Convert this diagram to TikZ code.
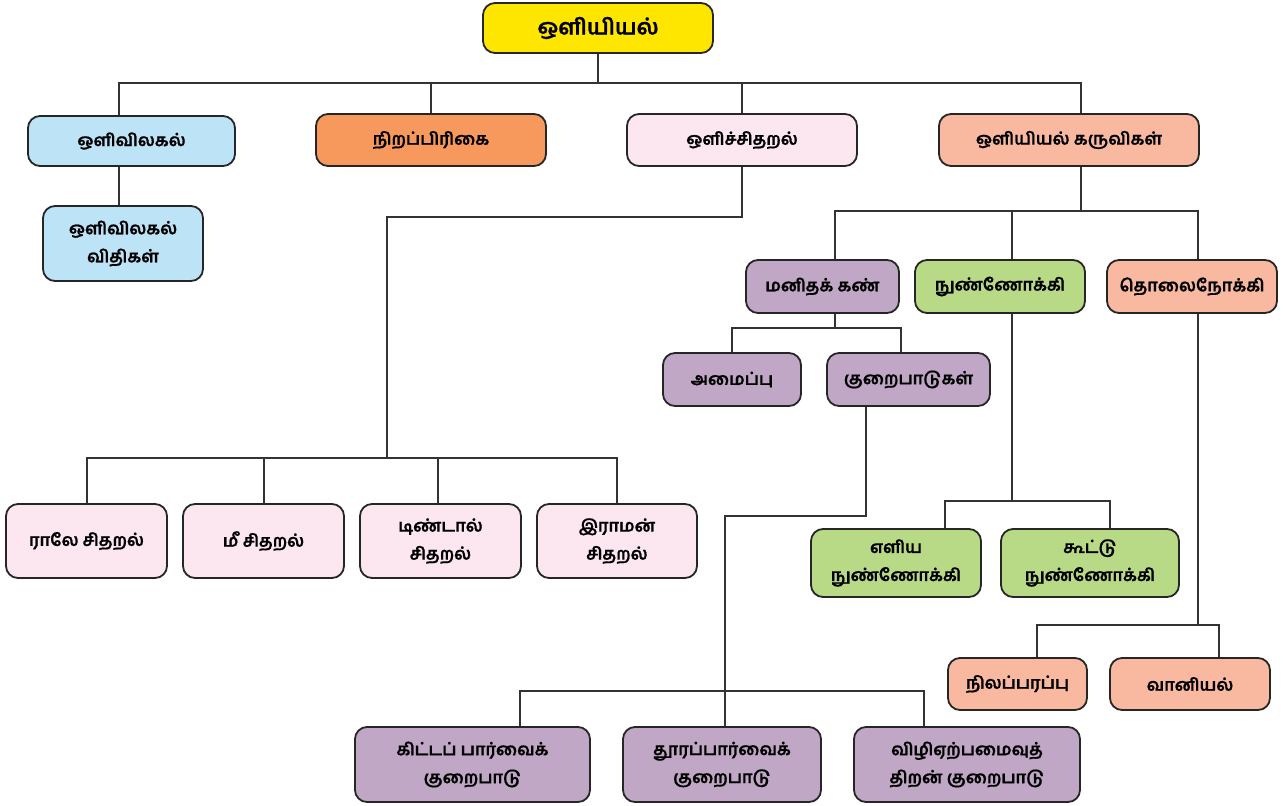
\documentclass[tikz,border=0pt]{standalone}
\usepackage{fontspec}
\newfontfamily\ta[Script=Tamil,BoldFeatures={FakeBold=0.7}]{Hind Madurai}
\definecolor{cyel}{HTML}{FFE600}
\definecolor{cblu}{HTML}{BDE3F6}
\definecolor{cora}{HTML}{F7995C}
\definecolor{cpnk}{HTML}{FCE6F0}
\definecolor{csal}{HTML}{F9B8A0}
\definecolor{cpur}{HTML}{C1A7C6}
\definecolor{cgrn}{HTML}{B8D985}
\definecolor{cln}{HTML}{333333}
\newcommand\mybx[7]{\node[box,fill=#6,minimum width={(#4-#2)*1pt},minimum height={(#5-#3)*1pt}] (#1) at ({(#2+#4)/2},{(#3+#5)/2}) {#7};}
\begin{document}
\begin{tikzpicture}[x=1pt,y=-1pt,
  box/.style={draw=black!85,line width=1.8pt,rounded corners=12pt,align=center,inner sep=0pt,
    font=\ta\bfseries\fontsize{17}{28}\selectfont},
  conn/.style={draw=cln,line width=2pt}]
\useasboundingbox (0,0) rectangle (1283,806);
\mybx{root}{483}{3}{713}{53}{cyel}{\fontsize{22}{24}\selectfont ஒளியியல்}
\mybx{A}{28}{116}{235}{166}{cblu}{ஒளிவிலகல்}
\mybx{A1}{43}{206}{203}{281}{cblu}{ஒளிவிலகல்\\விதிகள்}
\mybx{B}{316}{114}{546}{166}{cora}{நிறப்பிரிகை}
\mybx{C}{627}{114}{857}{166}{cpnk}{ஒளிச்சிதறல்}
\mybx{D}{939}{114}{1199}{166}{csal}{ஒளியியல் கருவிகள்}
\mybx{C1}{6}{504}{167}{578}{cpnk}{ராலே சிதறல்}
\mybx{C2}{183}{504}{344}{578}{cpnk}{மீ சிதறல்}
\mybx{C3}{360}{504}{521}{578}{cpnk}{டிண்டால்\\சிதறல்}
\mybx{C4}{537}{504}{697}{578}{cpnk}{இராமன்\\சிதறல்}
\mybx{E}{746}{260}{899}{313}{cpur}{மனிதக் கண்}
\mybx{M}{915}{260}{1085}{313}{cgrn}{நுண்ணோக்கி}
\mybx{T}{1107}{260}{1277}{313}{csal}{தொலைநோக்கி}
\mybx{E1}{663}{353}{801}{406}{cpur}{அமைப்பு}
\mybx{E2}{827}{353}{990}{406}{cpur}{குறைபாடுகள்}
\mybx{F1}{355}{727}{590}{802}{cpur}{கிட்டப் பார்வைக்\\குறைபாடு}
\mybx{F2}{623}{727}{821}{802}{cpur}{தூரப்பார்வைக்\\குறைபாடு}
\mybx{F3}{854}{727}{1080}{802}{cpur}{விழிஏற்பமைவுத்\\திறன் குறைபாடு}
\mybx{M1}{811}{529}{981}{597}{cgrn}{எளிய\\நுண்ணோக்கி}
\mybx{M2}{1001}{529}{1179}{597}{cgrn}{கூட்டு\\நுண்ணோக்கி}
\mybx{T1}{948}{658}{1087}{710}{csal}{நிலப்பரப்பு}
\mybx{T2}{1110}{658}{1270}{710}{csal}{வானியல்}
% level 1
\coordinate (bus1) at (598,83);
\draw[conn] (root.south) -- (bus1);
\draw[conn] ([xshift=-12.5pt]A.north) |- (bus1);
\draw[conn] ([xshift=12pt]D.north) |- (bus1);
\draw[conn] (B.north) -- (B.north |- bus1);
\draw[conn] (C.north) -- (C.north |- bus1);
\draw[conn] ([xshift=-12.5pt]A.south) -- ([xshift=-12.5pt]A.south |- A1.north);
% scattering
\coordinate (cj) at (387,217);
\coordinate (cb) at (387,458);
\draw[conn] (C.south) |- (cj) -- (cb);
\draw[conn] (C1.north) |- (cb);
\draw[conn] (C4.north) |- (cb);
\draw[conn] (C2.north) -- (C2.north |- cb);
\draw[conn] ([xshift=-2.5pt]C3.north) -- ([xshift=-2.5pt]C3.north |- cb);
% instruments
\coordinate (db) at (1081,211);
\draw[conn] ([xshift=12pt]D.south) -- (db);
\draw[conn] ([xshift=12.5pt]E.north) |- (db);
\draw[conn] ([xshift=6pt]T.north) |- (db);
\draw[conn] ([xshift=12pt]M.north) -- ([xshift=12pt]M.north |- db);
% eye
\coordinate (eb) at (835,328);
\draw[conn] ([xshift=12.5pt]E.south) -- (eb);
\draw[conn] (E1.north) |- (eb);
\draw[conn] ([xshift=-7.5pt]E2.north) |- (eb);
% defects
\coordinate (ej) at (866,516);
\coordinate (fb) at (725,691);
\draw[conn] ([xshift=-42.5pt]E2.south) -- (ej) -| ([xshift=3pt]F2.north);
\draw[conn] ([xshift=47.5pt]F1.north) |- (fb);
\draw[conn] ([xshift=-43pt]F3.north) |- (fb);
% microscope
\coordinate (mb) at (1012,501);
\draw[conn] ([xshift=12pt]M.south) -- (mb);
\draw[conn] ([xshift=49pt]M1.north) |- (mb);
\draw[conn] ([xshift=20pt]M2.north) |- (mb);
% telescope
\coordinate (tb) at (1198,625);
\draw[conn] ([xshift=6pt]T.south) -- (tb);
\draw[conn] ([xshift=19.5pt]T1.north) |- (tb);
\draw[conn] ([xshift=29pt]T2.north) |- (tb);
\end{tikzpicture}
\end{document}
